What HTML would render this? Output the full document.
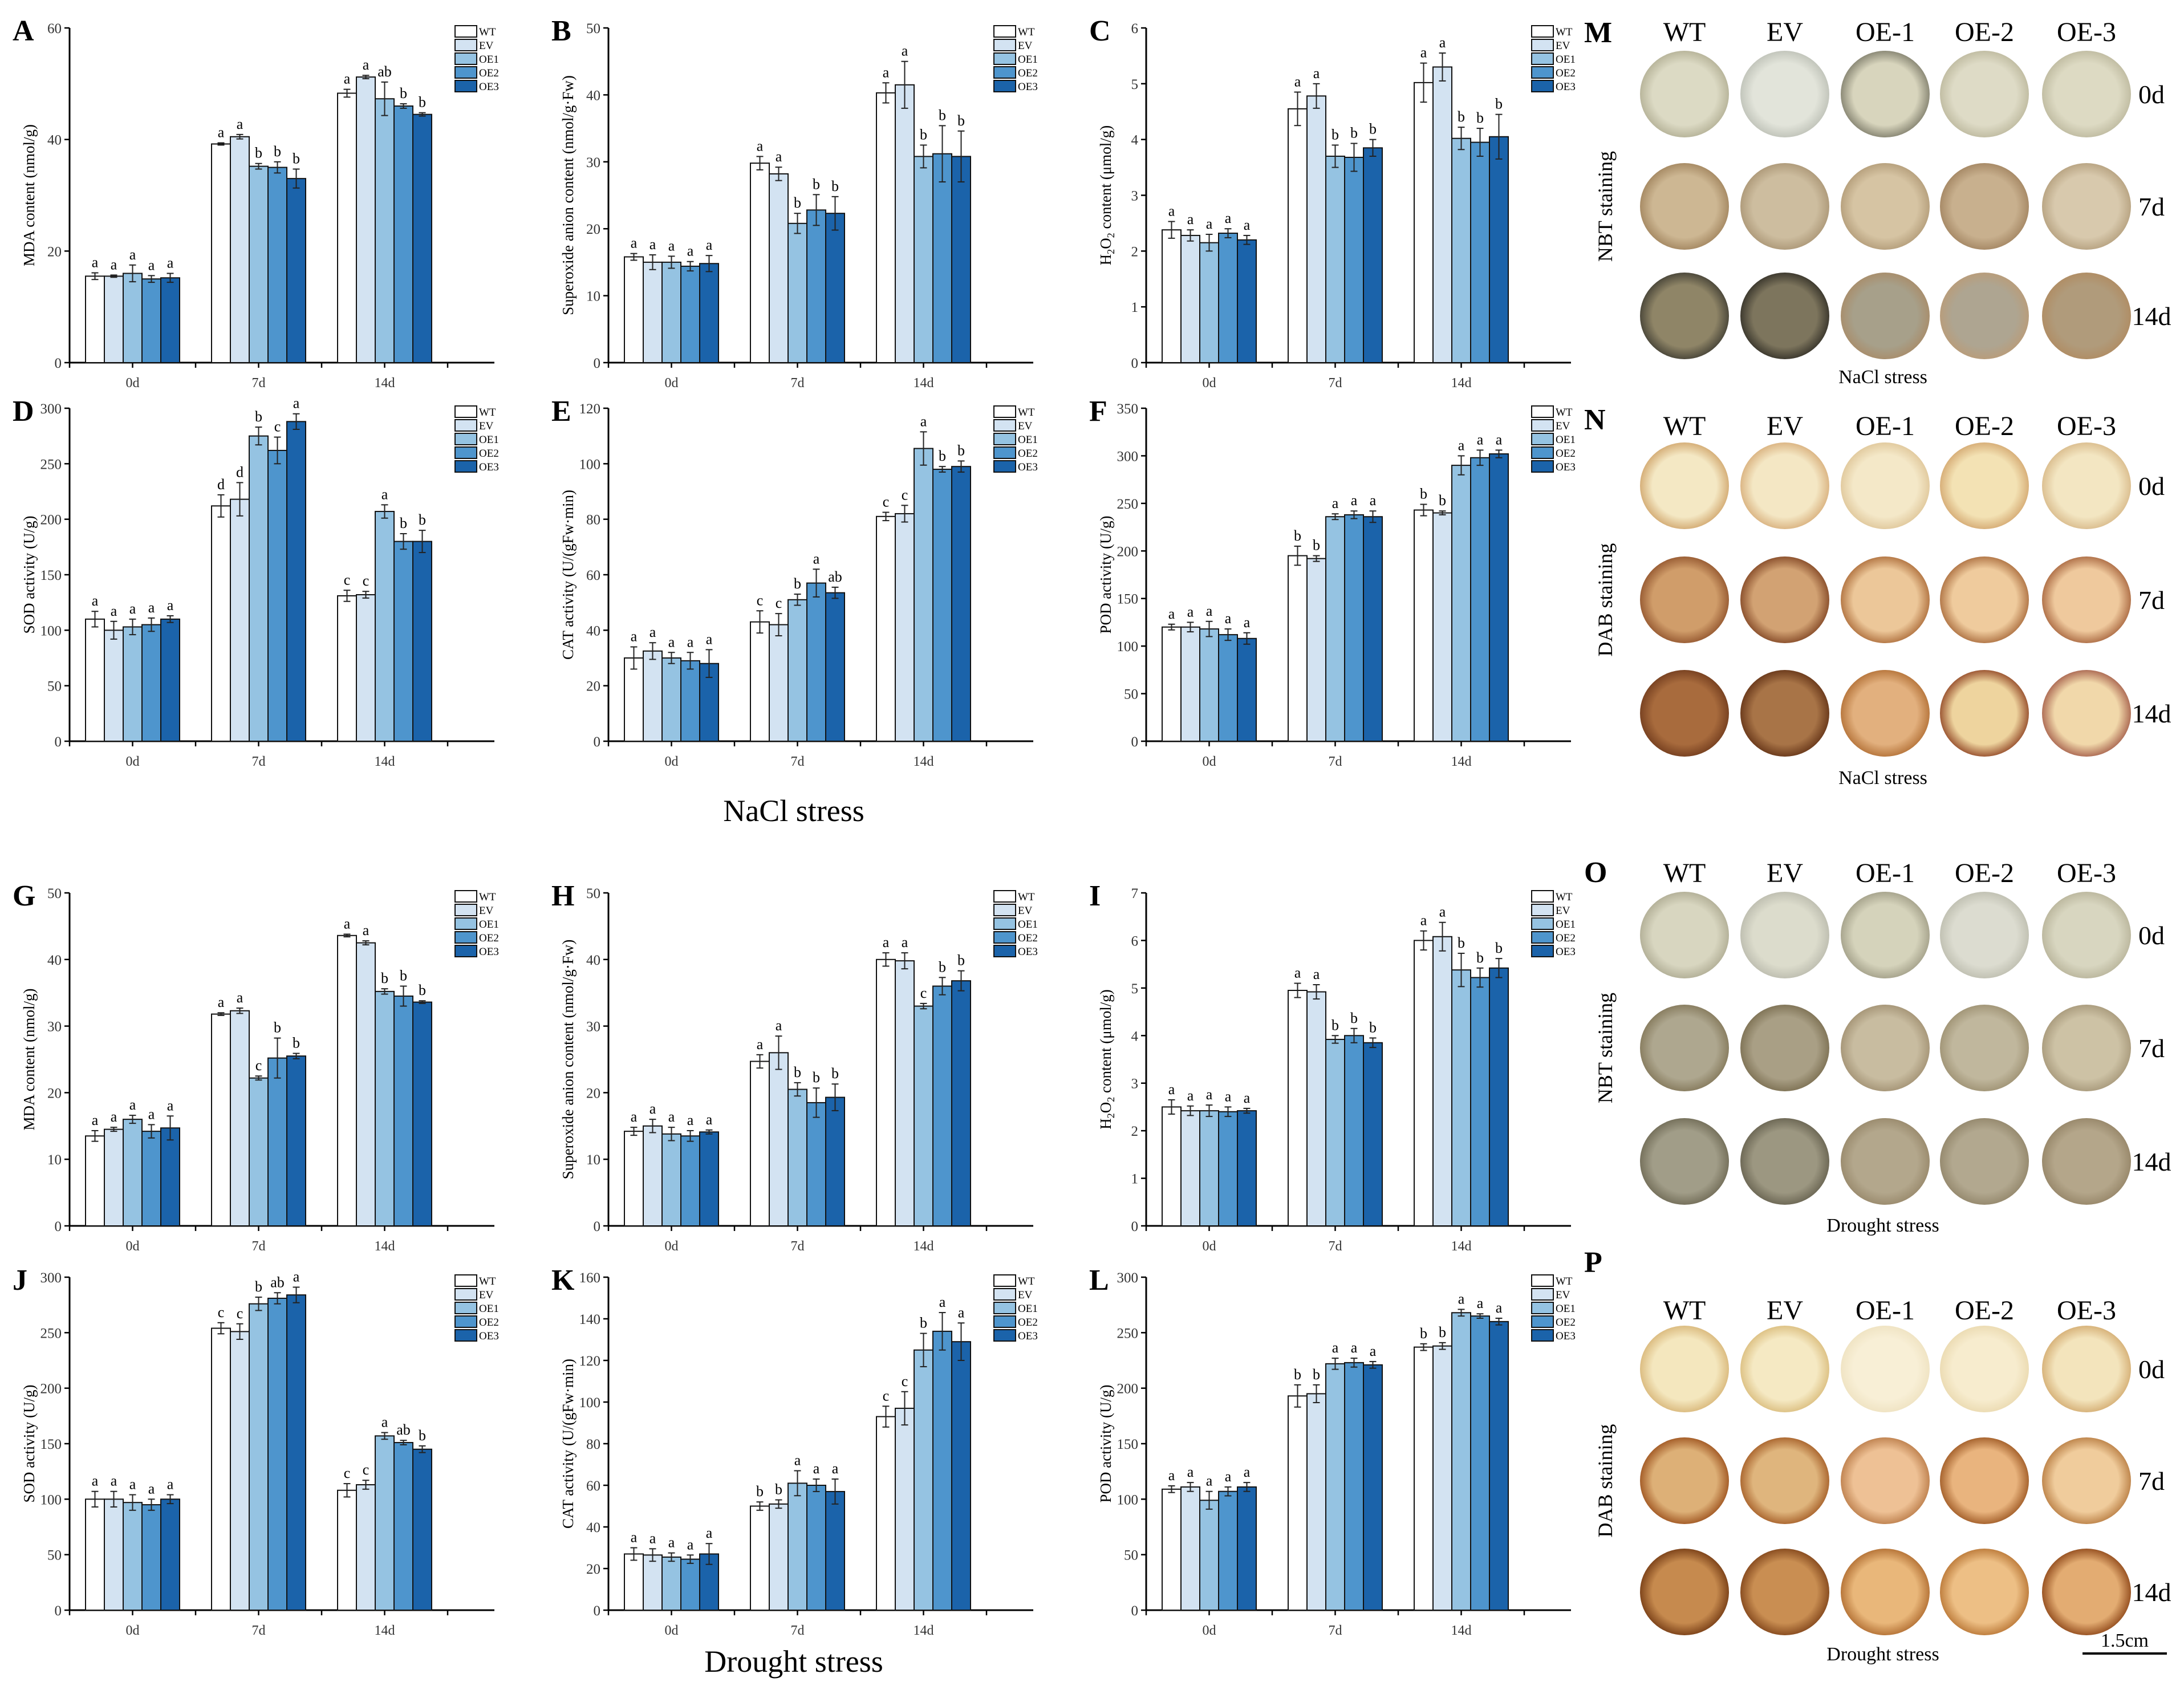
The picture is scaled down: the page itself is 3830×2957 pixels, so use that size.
<!DOCTYPE html>
<html><head><meta charset="utf-8"><style>
html,body{margin:0;padding:0;background:#fff;}
svg{display:block;font-family:"Liberation Serif",serif;}
</style></head><body>
<svg id="fig" width="3830" height="2957" viewBox="0 0 3830 2957" xmlns="http://www.w3.org/2000/svg">
<defs id="defs"></defs>
<text x="1392" y="1440" font-size="54" text-anchor="middle">NaCl stress</text>
<text x="1392" y="2932" font-size="54" text-anchor="middle">Drought stress</text>
</svg>
<script>
const categories = ["0d","7d","14d"];
const seriesNames = ["WT","EV","OE1","OE2","OE3"];
const seriesColors = ["#ffffff","#d3e3f2","#95c3e2","#4e95cd","#1b63aa"];

const valsA=[[15.5,15.5,16,15,15.2],[39.2,40.5,35.2,35,33],[48.3,51.2,47.3,46,44.5]];
const errsA=[[0.6,0.2,1.5,0.6,0.8],[0.2,0.4,0.5,1,1.7],[0.7,0.3,3,0.4,0.3]];
const letsA=[["a","a","a","a","a"],["a","a","b","b","b"],["a","a","ab","b","b"]];
const valsB=[[15.8,15,15,14.4,14.8],[29.8,28.2,20.8,22.8,22.3],[40.3,41.5,30.8,31.2,30.8]];
const errsB=[[0.5,1.1,0.9,0.7,1.2],[1,1,1.5,2.3,2.5],[1.5,3.5,1.7,4.2,3.8]];
const letsB=[["a","a","a","a","a"],["a","a","b","b","b"],["a","a","b","b","b"]];
const valsC=[[2.38,2.28,2.15,2.32,2.2],[4.55,4.78,3.7,3.68,3.85],[5.02,5.3,4.02,3.95,4.05]];
const errsC=[[0.15,0.1,0.15,0.08,0.08],[0.3,0.22,0.2,0.25,0.15],[0.35,0.25,0.2,0.25,0.4]];
const letsC=[["a","a","a","a","a"],["a","a","b","b","b"],["a","a","b","b","b"]];
const valsD=[[110,100,103,105,110],[212,218,275,262,288],[131,132,207,180,180]];
const errsD=[[7,8,7,6,3],[10,15,8,12,7],[5,3,6,7,10]];
const letsD=[["a","a","a","a","a"],["d","d","b","c","a"],["c","c","a","b","b"]];
const valsE=[[30,32.5,30,29,28],[43,42,51,57,53.5],[81,82,105.5,98,99]];
const errsE=[[4,3,2,3,5],[4,4,2,5,2],[1.5,3,6,1,2]];
const letsE=[["a","a","a","a","a"],["c","c","b","a","ab"],["c","c","a","b","b"]];
const valsF=[[120,120,118,112,108],[195,192,236,238,236],[243,240,290,298,302]];
const errsF=[[3,5,8,6,6],[10,3,3,4,6],[6,2,10,8,4]];
const letsF=[["a","a","a","a","a"],["b","b","a","a","a"],["b","b","a","a","a"]];
const valsG=[[13.5,14.5,16,14.2,14.7],[31.8,32.3,22.2,25.2,25.5],[43.6,42.5,35.2,34.5,33.6]];
const errsG=[[0.8,0.3,0.6,1,1.8],[0.2,0.4,0.3,3,0.4],[0.2,0.3,0.4,1.5,0.2]];
const letsG=[["a","a","a","a","a"],["a","a","c","b","b"],["a","a","b","b","b"]];
const valsH=[[14.2,15,13.8,13.5,14.1],[24.7,26,20.5,18.5,19.3],[40,39.8,33,36,36.8]];
const errsH=[[0.6,1,1,0.8,0.3],[1,2.5,1,2.2,2],[1,1.2,0.4,1.3,1.5]];
const letsH=[["a","a","a","a","a"],["a","a","b","b","b"],["a","a","c","b","b"]];
const valsI=[[2.5,2.42,2.42,2.4,2.42],[4.95,4.92,3.92,4,3.85],[6,6.08,5.38,5.22,5.42]];
const errsI=[[0.15,0.1,0.12,0.1,0.05],[0.15,0.15,0.08,0.15,0.1],[0.2,0.3,0.35,0.2,0.2]];
const letsI=[["a","a","a","a","a"],["a","a","b","b","b"],["a","a","b","b","b"]];
const valsJ=[[100,100,97,95,100],[254,251,276,281,284],[108,113,157,151,145]];
const errsJ=[[7,7,7,5,4],[5,7,6,5,7],[6,4,3,2,3]];
const letsJ=[["a","a","a","a","a"],["c","c","b","ab","a"],["c","c","a","ab","b"]];
const valsK=[[27,26.5,25.5,24.5,27],[50,51,61,60,57],[93,97,125,134,129]];
const errsK=[[3,3,2,2,5],[2,2,6,3,6],[5,8,8,9,9]];
const letsK=[["a","a","a","a","a"],["b","b","a","a","a"],["c","c","b","a","a"]];
const valsL=[[109,111,99,107,111],[193,195,222,223,221],[237,238,268,265,260]];
const errsL=[[3,4,8,4,4],[10,8,5,4,3],[3,3,3,2,3]];
const letsL=[["a","a","a","a","a"],["b","b","a","a","a"],["b","b","a","a","a"]];

const NS="http://www.w3.org/2000/svg";
const svg=document.getElementById('fig');
const defs=document.getElementById('defs');
function mk(tag,attrs,parent,txt){const e=document.createElementNS(NS,tag);for(const k in attrs)e.setAttribute(k,attrs[k]);if(txt!==undefined)e.textContent=txt;(parent||svg).appendChild(e);return e;}

const panels=[
 {id:"A",x:122,top:49,bot:636,max:60,step:20,lab:"MDA content (nmol/g)",v:valsA,e:errsA,l:letsA},
 {id:"B",x:1067,top:49,bot:636,max:50,step:10,lab:"Superoxide anion content (nmol/g·Fw)",v:valsB,e:errsB,l:letsB},
 {id:"C",x:2010,top:49,bot:636,max:6,step:1,lab:"H2O2",v:valsC,e:errsC,l:letsC},
 {id:"D",x:122,top:716,bot:1300,max:300,step:50,lab:"SOD activity (U/g)",v:valsD,e:errsD,l:letsD},
 {id:"E",x:1067,top:716,bot:1300,max:120,step:20,lab:"CAT activity (U/(gFw·min)",v:valsE,e:errsE,l:letsE},
 {id:"F",x:2010,top:716,bot:1300,max:350,step:50,lab:"POD activity (U/g)",v:valsF,e:errsF,l:letsF},
 {id:"G",x:122,top:1566,bot:2150,max:50,step:10,lab:"MDA content (nmol/g)",v:valsG,e:errsG,l:letsG},
 {id:"H",x:1067,top:1566,bot:2150,max:50,step:10,lab:"Superoxide anion content (nmol/g·Fw)",v:valsH,e:errsH,l:letsH},
 {id:"I",x:2010,top:1566,bot:2150,max:7,step:1,lab:"H2O2",v:valsI,e:errsI,l:letsI},
 {id:"J",x:122,top:2240,bot:2824,max:300,step:50,lab:"SOD activity (U/g)",v:valsJ,e:errsJ,l:letsJ},
 {id:"K",x:1067,top:2240,bot:2824,max:160,step:20,lab:"CAT activity (U/(gFw·min)",v:valsK,e:errsK,l:letsK},
 {id:"L",x:2010,top:2240,bot:2824,max:300,step:50,lab:"POD activity (U/g)",v:valsL,e:errsL,l:letsL}
];

panels.forEach(p=>{
 const g=mk('g',{});
 
 
 const ys=v=>p.bot-(v/p.max)*(p.bot-p.top);
 const catW=221, barW=33;
 const xc=i=>p.x+catW/2+i*catW;
 const pl=mk('text',{x:p.x-100,y:p.top+22,'font-size':52,'font-weight':'bold'},g,p.id);
 
 
 mk('line',{x1:p.x,y1:p.top,x2:p.x,y2:p.bot,stroke:'#000','stroke-width':3},g);
 for(let t=0;t<=p.max+1e-9;t+=p.step){
  const y=ys(t);
  mk('line',{x1:p.x-9,y1:y,x2:p.x,y2:y,stroke:'#000','stroke-width':2.5},g);
  const tl=mk('text',{x:p.x-14,y:y+9,'font-size':25,'text-anchor':'end',fill:'#333'},g,String(Math.round(t*10)/10));
  
  
 }
 mk('line',{x1:p.x,y1:p.bot,x2:p.x+745,y2:p.bot,stroke:'#000','stroke-width':3},g);
 for(let i=0;i<=3;i++){const x=p.x+i*catW;mk('line',{x1:x,y1:p.bot,x2:x,y2:p.bot+9,stroke:'#000','stroke-width':2.5},g);}
 categories.forEach((c,i)=>{
  mk('line',{x1:xc(i),y1:p.bot,x2:xc(i),y2:p.bot+9,stroke:'#000','stroke-width':2.5},g);
  const t=mk('text',{x:xc(i),y:p.bot+43,'font-size':24,'text-anchor':'middle',fill:'#333'},g,c);
  
  
 });
 const cy=(p.top+p.bot)/2, tx=p.x-62;
 let yt;
 if(p.lab==="H2O2"){
  yt=mk('text',{x:tx,y:cy,'font-size':27,'text-anchor':'middle',transform:`rotate(-90 ${tx} ${cy})`},g);
  mk('tspan',{},yt,'H');mk('tspan',{'font-size':18,dy:6},yt,'2');mk('tspan',{dy:-6},yt,'O');mk('tspan',{'font-size':18,dy:6},yt,'2');mk('tspan',{dy:-6},yt,' content  (μmol/g)');
 } else {
  yt=mk('text',{x:tx,y:cy,'font-size':27,'text-anchor':'middle',transform:`rotate(-90 ${tx} ${cy})`},g,p.lab);
 }
 
 
 categories.forEach((c,i)=>{
  seriesNames.forEach((s,j)=>{
   const val=p.v[i][j], er=p.e[i][j];
   const x=xc(i)+(j-2.5)*barW;
   const b=mk('rect',{x:x,y:ys(val),width:barW,height:p.bot-ys(val),fill:seriesColors[j],stroke:'#111','stroke-width':2},g);
   
   
   const cx=x+barW/2, y1=ys(val+er), y2=ys(val-er);
   mk('line',{x1:cx,y1:y1,x2:cx,y2:y2,stroke:'#222','stroke-width':2},g);
   mk('line',{x1:cx-6,y1:y1,x2:cx+6,y2:y1,stroke:'#222','stroke-width':2},g);
   mk('line',{x1:cx-6,y1:y2,x2:cx+6,y2:y2,stroke:'#222','stroke-width':2},g);
   const lt=mk('text',{x:cx,y:y1-10,'font-size':26,'text-anchor':'middle'},g,p.l[i][j]);
   
   
  });
 });
 seriesNames.forEach((s,j)=>{
  const ly=p.top-4+j*24;
  const lg=mk('g',{},g);
  
  
  mk('rect',{x:p.x+676,y:ly,width:38,height:20,fill:seriesColors[j],stroke:'#111','stroke-width':2},lg);
  mk('text',{x:p.x+718,y:ly+17,'font-size':19},lg,s);
 });
});

const photoCols=[2954,3130,3306,3480,3659];
const genotypes=["WT","EV","OE-1","OE-2","OE-3"];
const days=["0d","7d","14d"];
const photoPanels=[
 {id:"M",ly:54,hy:54,rows:[165,362,554],stain:"NBT staining",foot:"NaCl stress",fy:672,
  fill:[["#dcdac4","#e2e4da","#d8d5bd","#dedbc6","#dddac3"],["#cdb793","#cdbd9f","#d6c4a3","#c8b08e","#d8c9ad"],["#8f8567","#7d755d","#a7a08a","#aea591","#b09b7b"]],
  edge:[["#b9b69c","#c3c6bc","#8d8b78","#c2bea4","#c2bea4"],["#a88c66","#b09c7c","#b8a27f","#a88b68","#baa685"],["#4e4a3c","#3f3b30","#a88f6e","#b89d7c","#b08e66"]]},
 {id:"N",ly:733,hy:745,rows:[852,1052,1251],stain:"DAB staining",foot:"NaCl stress",fy:1375,
  fill:[["#f4e8c4","#f4e7c4","#f4e8c8","#f3e2b4","#f3e6c2"],["#d09d6a","#d2a273","#ecc799","#efcb9d","#efc99d"],["#a86b3d","#a87447","#e2b07e","#eed49e","#f1d8aa"]],
  edge:[["#d6b07a","#dcb786","#e2cba0","#d8b07a","#dcc092"],["#9b5f36","#8e5430","#b67a48","#b47a4b","#b2744c"],["#7a4322","#6e3d1e","#b97940","#9e5a36","#b07058"]]},
 {id:"O",ly:1527,hy:1529,rows:[1640,1838,2037],stain:"NBT staining",foot:"Drought stress",fy:2160,
  fill:[["#d8d6c0","#dcdccc","#d5d3bb","#dcdcd0","#d8d6c0"],["#aea78f","#a99f85","#c8bca0","#c0b79d","#cdc2a5"],["#a19d88","#9c9781","#b3a78c","#b2a88f","#b4a68a"]],
  edge:[["#b5b29a","#c0c0b2","#a9a68f","#c2c2b4","#bdb9a0"],["#8a7f62","#827659","#a8987a","#a39779","#ac9e80"],["#77725d","#6f6a57","#9c8d70","#978b70","#9a8a6d"]]},
 {id:"P",ly:2211,hy:2296,rows:[2401,2597,2792],stain:"DAB staining",foot:"Drought stress",fy:2912,
  fill:[["#f4e7be","#f5e9c3","#f8efd6","#f7ecce","#f3e4bc"],["#ddb077","#dfb57d","#eec195","#e9b47e","#f0cc9c"],["#c68a4e","#c98e52","#e9b77a","#edbf85","#e3ac72"]],
  edge:[["#dcbd82","#dec387","#f0e4c4","#ecdcb4","#d8b47c"],["#a65f2a","#ad6a33","#c28654","#a86530","#c0884f"],["#80461c","#8b4f22","#b8773b","#c08040","#9a5525"]]}
];
let gid=0;
photoPanels.forEach(pp=>{
 const g=mk('g',{});
 
 
 mk('text',{x:2778,y:pp.ly+20,'font-size':52,'font-weight':'bold'},g,pp.id);
 genotypes.forEach((gn,c)=>{mk('text',{x:photoCols[c],y:pp.hy+18,'font-size':48,'text-anchor':'middle'},g,gn);});
 days.forEach((d,r)=>{mk('text',{x:3773,y:pp.rows[r]+16,'font-size':46,'text-anchor':'middle'},g,d);});
 const sy=pp.rows[1];
 mk('text',{x:2827,y:sy,'font-size':36,'text-anchor':'middle',transform:`rotate(-90 2827 ${sy})`},g,pp.stain);
 mk('text',{x:3302,y:pp.fy,'font-size':34,'text-anchor':'middle'},g,pp.foot);
 pp.rows.forEach((ry,r)=>{
  photoCols.forEach((cx,c)=>{
   const id='rg'+(gid++);
   const rg=mk('radialGradient',{id:id},defs);
   mk('stop',{offset:'0%','stop-color':pp.fill[r][c]},rg);
   mk('stop',{offset:'72%','stop-color':pp.fill[r][c]},rg);
   mk('stop',{offset:'100%','stop-color':pp.edge[r][c]},rg);
   const el=mk('ellipse',{cx:cx,cy:ry,rx:78,ry:76,fill:`url(#${id})`},g);
   
   
  });
 });
});
const sb=mk('g',{});


mk('line',{x1:3652,y1:2900,x2:3800,y2:2900,stroke:'#000','stroke-width':4},sb);
mk('text',{x:3726,y:2888,'font-size':34,'text-anchor':'middle'},sb,'1.5cm');
</script>
</body></html>
